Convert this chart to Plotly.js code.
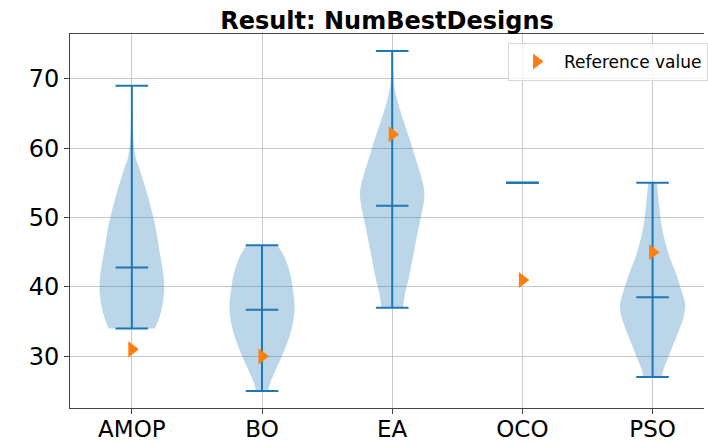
<!DOCTYPE html>
<html>
<head>
<meta charset="utf-8">
<script src="https://cdn.plot.ly/plotly-3.0.1.min.js"></script>
<style>
  html, body { margin: 0; padding: 0; background: #fff; }
  #chart { width: 708px; height: 442px; }
</style>
</head>
<body>
<div id="chart"></div>
<script>
// Optimiser names shown on the x axis
const categories = ['AMOP', 'BO', 'EA', 'OCO', 'PSO'];

// Summary statistics per optimiser
const minVals  = [34, 25, 37, 55, 27];
const maxVals  = [69, 46, 74, 55, 55];
const meanVals = [42.8, 36.7, 51.7, 55, 38.5];

// Reference value for each optimiser
const refVals = [31, 30, 62, 41, 45];

// Density profiles (relative half-widths, 1 = widest) along the value axis
const amopLevels = [34, 35.8, 37.6, 39.4, 41.2, 43.0, 45.4, 47.8, 50.2, 52.6, 55.0, 57.4, 58.4, 59.8, 62, 65, 69];
const amopDens   = [0.71, 0.86, 0.95, 0.99, 0.98, 0.93, 0.84, 0.76, 0.65, 0.52, 0.37, 0.21, 0.13, 0.08, 0.04, 0.02, 0.01];

const boLevels = [25, 26.2, 27.6, 30.0, 32.4, 34.8, 37.2, 39.6, 42.0, 44.4, 46];
const boDens   = [0.19, 0.25, 0.38, 0.61, 0.81, 0.95, 1.0, 0.95, 0.86, 0.68, 0.47];

const eaLevels = [37, 38.9, 41.3, 43.7, 46.1, 48.5, 50.9, 52.2, 53.4, 54.6, 56.7, 59.1, 61.5, 63.9, 66.3, 68.7, 71, 74];
const eaDens   = [0.33, 0.39, 0.51, 0.61, 0.71, 0.81, 0.92, 0.97, 0.99, 0.96, 0.84, 0.68, 0.52, 0.35, 0.19, 0.07, 0.03, 0.01];

const ocoLevels = [];
const ocoDens   = [];

const psoLevels = [27, 28.3, 29.8, 32.2, 34.6, 36.0, 37.5, 39.4, 41.8, 44.2, 46.6, 49.0, 51.4, 54.3, 55];
const psoDens   = [0.28, 0.35, 0.48, 0.68, 0.88, 0.97, 1.0, 0.89, 0.73, 0.53, 0.38, 0.27, 0.21, 0.15, 0.14];

const profiles = [
  [amopLevels, amopDens],
  [boLevels, boDens],
  [eaLevels, eaDens],
  [ocoLevels, ocoDens],
  [psoLevels, psoDens]
];

const BLUE = '#1f77b4';
const HALF_WIDTH = 0.25;   // widest half-width of a violin body, in x units
const BAR_HALF = 0.125;    // half-length of the min / max / mean bars

const positions = categories.map((_, i) => i + 1);
const traces = [];

// Violin bodies: right edge upwards, left edge downwards; the end corners
// are repeated so the smoothed outline keeps flat ends at min and max.
profiles.forEach(([levels, dens], i) => {
  if (!levels.length) return;
  const pos = positions[i];
  const n = levels.length;
  const xs = [], ys = [];
  xs.push(pos + dens[0] * HALF_WIDTH); ys.push(levels[0]);
  levels.forEach((y, k) => { xs.push(pos + dens[k] * HALF_WIDTH); ys.push(y); });
  xs.push(pos + dens[n - 1] * HALF_WIDTH); ys.push(levels[n - 1]);
  xs.push(pos - dens[n - 1] * HALF_WIDTH); ys.push(levels[n - 1]);
  for (let k = n - 1; k >= 0; k--) {
    xs.push(pos - dens[k] * HALF_WIDTH); ys.push(levels[k]);
  }
  xs.push(pos - dens[0] * HALF_WIDTH); ys.push(levels[0]);
  xs.push(xs[0]); ys.push(ys[0]);
  traces.push({
    type: 'scatter', mode: 'lines', x: xs, y: ys,
    fill: 'toself', fillcolor: 'rgba(31,119,180,0.3)',
    line: { width: 0, shape: 'spline', smoothing: 1.0, color: 'rgba(31,119,180,0.3)' },
    hoverinfo: 'skip', showlegend: false
  });
});

// Extrema bars, mean bar and the vertical range line
const lx = [], ly = [];
positions.forEach((pos, i) => {
  lx.push(pos, pos, null); ly.push(minVals[i], maxVals[i], null);
  [minVals[i], maxVals[i], meanVals[i]].forEach(v => {
    lx.push(pos - BAR_HALF, pos + BAR_HALF, null); ly.push(v, v, null);
  });
});
traces.push({
  type: 'scatter', mode: 'lines', x: lx, y: ly,
  line: { color: BLUE, width: 2 }, hoverinfo: 'skip', showlegend: false
});

// Reference values
traces.push({
  type: 'scatter', mode: 'markers', name: 'Reference value',
  x: positions, y: refVals,
  marker: { symbol: 'triangle-right', color: '#ff7f0e', size: 14, line: { width: 0 } }
});

const layout = {
  width: 708, height: 442,
  margin: { l: 70, r: 0, t: 34, b: 34 },
  paper_bgcolor: '#fff', plot_bgcolor: '#fff',
  font: { family: 'DejaVu Sans', color: '#000' },
  title: {
    text: '<b>Result: NumBestDesigns</b>',
    font: { family: 'DejaVu Sans', size: 24, color: '#000' },
    x: 0.5, xref: 'paper', xanchor: 'center',
    y: 1, yref: 'paper', yanchor: 'bottom', pad: { b: 5 }
  },
  xaxis: {
    range: [0.525, 5.395],
    tickmode: 'array', tickvals: positions, ticktext: categories,
    tickfont: { size: 23, family: 'DejaVu Sans' },
    ticklabelstandoff: -5,
    showgrid: true, gridcolor: '#c8c8c8', gridwidth: 1,
    zeroline: false,
    showline: true, linecolor: '#444', linewidth: 1, mirror: true,
    ticks: 'outside', ticklen: 5, tickcolor: '#444', tickwidth: 1
  },
  yaxis: {
    range: [22.55, 76.45],
    tickmode: 'array', tickvals: [30, 40, 50, 60, 70],
    tickfont: { size: 24, family: 'DejaVu Sans' },
    showgrid: true, gridcolor: '#c8c8c8', gridwidth: 1,
    zeroline: false,
    showline: true, linecolor: '#444', linewidth: 1,
    ticks: 'outside', ticklen: 5, tickcolor: '#444', tickwidth: 1
  },
  showlegend: true,
  legend: {
    x: 0.691, xanchor: 'left', y: 0.976, yanchor: 'top',
    bgcolor: 'rgba(255,255,255,0.8)', bordercolor: '#d6d6d6', borderwidth: 1,
    font: { size: 17, family: 'DejaVu Sans', color: '#000' },
    itemwidth: 45, tracegroupgap: 0
  }
};

Plotly.newPlot('chart', traces, layout, { staticPlot: true, displayModeBar: false });
</script>
</body>
</html>
